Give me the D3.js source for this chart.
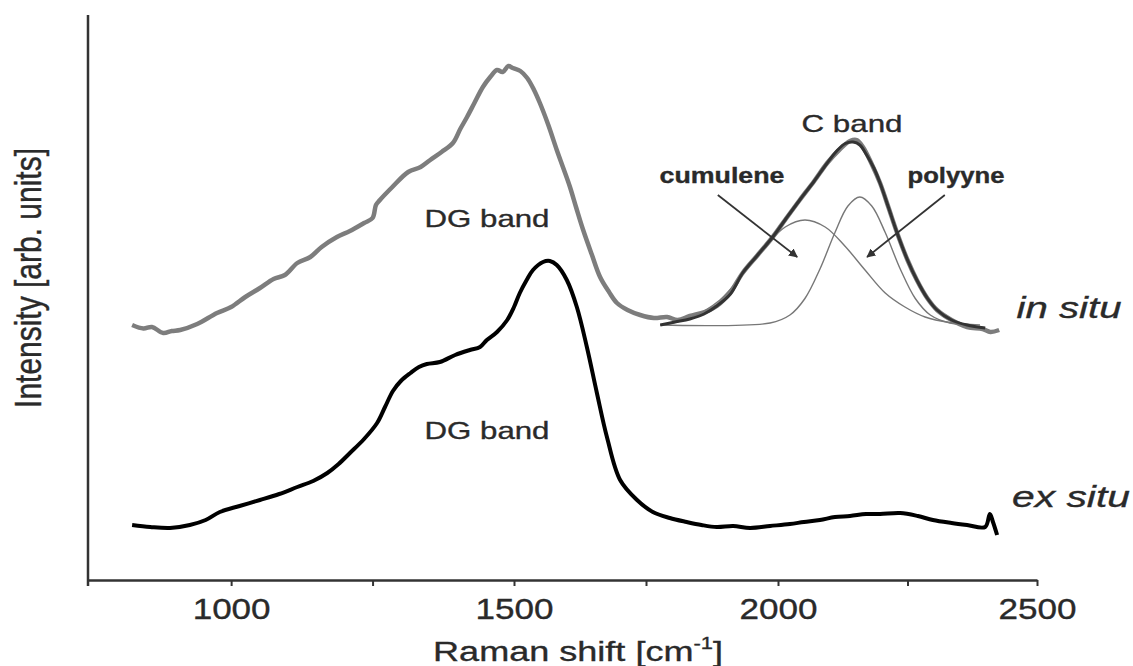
<!DOCTYPE html>
<html>
<head>
<meta charset="utf-8">
<script src="https://cdn.jsdelivr.net/npm/d3@7"></script>
<style>
  body { margin: 0; background: #fff; }
  text { font-family: "Liberation Sans", Arial, sans-serif; fill: #2a2a2a; stroke: #2a2a2a; stroke-width: 0.35px; }
</style>
</head>
<body>
<script>
// Raman spectra, in situ (grey) and ex situ (black)
var inSituShift = [825, 845, 860, 880, 895, 910, 940, 975, 1000, 1025, 1051, 1075, 1095, 1117, 1140, 1160, 1187, 1210, 1235, 1250,
  1256, 1263, 1285, 1313, 1335, 1352, 1372, 1392, 1405, 1417, 1430, 1445, 1458, 1470, 1480, 1490, 1498, 1512, 1525, 1537,
  1549, 1565, 1581, 1594, 1606, 1618, 1631, 1647, 1663, 1680, 1695, 1715, 1739, 1765, 1790, 1810, 1833, 1861, 1884, 1910,
  1933, 1960, 1990, 2015, 2042, 2070, 2095, 2118, 2139, 2152, 2164, 2180, 2197, 2213, 2230, 2250, 2268, 2288, 2307, 2335,
  2365, 2395, 2410, 2427];
var inSituInt = [51.0, 50.3, 50.6, 49.4, 49.8, 50.0, 51.2, 53.4, 54.6, 56.6, 58.4, 60.2, 61.0, 63.4, 64.6, 66.6, 68.6, 69.8, 71.4, 72.4,
  75.0, 76.0, 78.6, 81.6, 82.6, 84.0, 85.6, 87.4, 90.2, 92.6, 95.4, 98.6, 100.6, 102.0, 101.6, 102.8, 102.4, 101.8, 100.4, 98.2,
  95.4, 91.0, 86.0, 82.2, 78.6, 74.4, 70.0, 65.2, 60.6, 57.6, 55.4, 54.0, 53.0, 52.4, 52.6, 52.0, 52.8, 53.6, 54.8, 57.6,
  61.4, 64.8, 68.6, 72.2, 76.0, 79.8, 83.4, 86.0, 87.8, 88.0, 86.6, 83.4, 79.4, 74.6, 69.4, 64.0, 60.0, 56.4, 54.0, 52.0,
  50.6, 50.2, 49.6, 50.0];

var exSituShift = [825, 857, 892, 927, 955, 980, 1015, 1051, 1085, 1117, 1145, 1170, 1190, 1210, 1235, 1258, 1272, 1286, 1300, 1317,
  1332, 1346, 1369, 1396, 1422, 1440, 1452, 1470, 1488, 1500, 1511, 1524, 1536, 1555, 1568, 1581, 1600, 1619, 1638, 1657,
  1676, 1701, 1733, 1763, 1795, 1827, 1855, 1884, 1915, 1947, 1985, 2023, 2050, 2081, 2110, 2139, 2170, 2197, 2236, 2270,
  2299, 2335, 2365, 2400, 2409, 2415, 2423];
var exSituInt = [11.0, 10.6, 10.4, 11.0, 12.0, 13.6, 14.8, 16.0, 17.2, 18.6, 19.8, 21.4, 23.2, 25.4, 28.2, 31.4, 34.6, 37.8, 39.8, 41.4,
  42.6, 43.2, 43.6, 45.0, 46.0, 46.6, 48.0, 49.6, 52.0, 54.6, 57.4, 60.0, 62.0, 63.6, 63.8, 63.0, 60.0, 54.6, 46.6, 37.4,
  28.6, 20.0, 16.0, 13.6, 12.4, 11.6, 11.0, 10.6, 10.8, 10.4, 10.8, 11.2, 11.6, 12.0, 12.6, 12.8, 13.2, 13.2, 13.4, 12.8,
  12.0, 11.4, 11.0, 10.6, 13.2, 11.6, 9.0];

// C band fit and its two components
var fitShift = [1777, 1805, 1833, 1860, 1884, 1910, 1933, 1960, 1990, 2015, 2042, 2070, 2095, 2115, 2130, 2145, 2158, 2170, 2185, 2197,
  2213, 2230, 2250, 2268, 2288, 2307, 2335, 2365, 2400];
var fitInt = [51.0, 51.6, 52.2, 53.2, 54.8, 57.2, 61.4, 64.8, 68.6, 72.2, 76.0, 79.8, 83.4, 86.0, 87.3, 87.6, 87.0, 85.2, 82.4, 79.4,
  74.6, 69.4, 64.0, 60.0, 56.4, 54.0, 52.0, 51.0, 50.4];

var cumuleneShift = [1777, 1833, 1890, 1937, 1975, 2014, 2052, 2091, 2129, 2168, 2207, 2245, 2284, 2332, 2390];
var cumuleneInt = [51.0, 52.4, 56.0, 61.6, 66.6, 70.6, 72.0, 70.6, 66.8, 62.0, 57.4, 54.6, 52.6, 51.5, 51.0];

var polyyneShift = [1777, 1985, 2023, 2052, 2081, 2110, 2135, 2158, 2181, 2207, 2236, 2265, 2294, 2332, 2380];
var polyyneInt = [51.0, 51.4, 53.0, 56.3, 62.2, 69.5, 74.8, 76.6, 74.8, 69.5, 62.2, 56.3, 53.0, 51.4, 51.0];

var xTicks = [1000, 1250, 1500, 1750, 2000, 2250, 2500];
var xTickLabels = ["1000", "", "1500", "", "2000", "", "2500"];

var width = 1133, height = 666;

var svg = d3.select("body").append("svg")
    .attr("width", width)
    .attr("height", height);

// the printed axis is not quite uniform, so the scale follows its tick marks
var x = d3.scaleLinear()
    .domain([747, 1500, 2000, 2500])
    .range([88, 514, 778, 1037]);

var y = d3.scaleLinear()
    .domain([0, 113])
    .range([580, 15]);

function pts(xs, ys) {
    return xs.map(function (d, i) { return [d, ys[i]]; });
}

var line = d3.line()
    .x(function (d) { return x(d[0]); })
    .y(function (d) { return y(d[1]); })
    .curve(d3.curveCatmullRom.alpha(0.5));

// spectra
svg.append("path").datum(pts(inSituShift, inSituInt))
    .attr("d", line).attr("fill", "none")
    .attr("stroke", "#7d7d7d").attr("stroke-width", 4.5).attr("stroke-linejoin", "round");

svg.append("path").datum(pts(exSituShift, exSituInt))
    .attr("d", line).attr("fill", "none")
    .attr("stroke", "#000").attr("stroke-width", 4).attr("stroke-linejoin", "round");

svg.append("path").datum(pts(cumuleneShift, cumuleneInt))
    .attr("d", line).attr("fill", "none")
    .attr("stroke", "#777").attr("stroke-width", 1.4);

svg.append("path").datum(pts(polyyneShift, polyyneInt))
    .attr("d", line).attr("fill", "none")
    .attr("stroke", "#777").attr("stroke-width", 1.4);

svg.append("path").datum(pts(fitShift, fitInt))
    .attr("d", line).attr("fill", "none")
    .attr("stroke", "#333").attr("stroke-width", 3);

// axes
var xAxis = d3.axisBottom(x)
    .tickValues(xTicks)
    .tickFormat(function (d, i) { return xTickLabels[i]; })
    .tickSizeInner(6)
    .tickSizeOuter(0)
    .tickPadding(12);

var gx = svg.append("g")
    .attr("transform", "translate(0," + y(0) + ")")
    .call(xAxis);
gx.select(".domain").attr("stroke", "#333").attr("stroke-width", 2.5);
gx.selectAll(".tick line").attr("stroke", "#333").attr("stroke-width", 2);
gx.selectAll(".tick text")
    .style("font-size", "30px")
    .attr("fill", "#2a2a2a")
    .attr("textLength", function () { return this.textContent ? 78 : null; })
    .attr("lengthAdjust", "spacingAndGlyphs");

svg.append("line")
    .attr("x1", x.range()[0]).attr("x2", x.range()[0])
    .attr("y1", 15).attr("y2", y(0) + 6)
    .attr("stroke", "#333").attr("stroke-width", 2.5);

// stretch a text node to a target width (the printed figure is widened)
function fitWidth(sel, cx, cy, w, rot) {
    var bw = sel.node().getBBox().width;
    var s = w / bw;
    if (rot) sel.attr("transform", "translate(" + cx + "," + cy + ") scale(1.17," + s + ") rotate(-90)");
    else sel.attr("transform", "translate(" + cx + "," + cy + ") scale(" + s + ",1)");
}

var xl = svg.append("text")
    .attr("text-anchor", "middle")
    .style("font-size", "28px");
xl.append("tspan").text("Raman shift [cm");
xl.append("tspan").attr("dy", -12).style("font-size", "17px").text("-1");
xl.append("tspan").attr("dy", 12).text("]");
fitWidth(xl, 578, 661, 290);

var yl = svg.append("text")
    .attr("text-anchor", "middle")
    .style("font-size", "31px")
    .text("Intensity [arb. units]");
fitWidth(yl, 41, 278, 260, true);

// annotations
var notes = [
    { t: "DG band", x: 487, y: 227, w: 125, size: 24 },
    { t: "DG band", x: 487, y: 439, w: 125, size: 24 },
    { t: "C band", x: 852, y: 132, w: 101, size: 24 },
    { t: "cumulene", x: 722, y: 183, w: 125, size: 22, weight: "bold" },
    { t: "polyyne", x: 956, y: 183, w: 97, size: 22, weight: "bold" },
    { t: "in situ", x: 1069, y: 318, w: 105, size: 29, style: "italic" },
    { t: "ex situ", x: 1071, y: 507, w: 118, size: 29, style: "italic" }
];
notes.forEach(function (n) {
    var t = svg.append("text")
        .attr("text-anchor", "middle")
        .style("font-size", n.size + "px")
        .style("font-weight", n.weight || "normal")
        .style("font-style", n.style || "normal")
        .text(n.t);
    fitWidth(t, n.x, n.y, n.w);
});

// arrows pointing at the two components
svg.append("defs").append("marker")
    .attr("id", "head")
    .attr("viewBox", "0 0 10 10")
    .attr("refX", 9).attr("refY", 5)
    .attr("markerWidth", 9).attr("markerHeight", 9)
    .attr("markerUnits", "userSpaceOnUse")
    .attr("orient", "auto")
    .append("path").attr("d", "M0,0 L10,5 L0,10 z").attr("fill", "#333");

var arrows = [
    [[1886, 77], [2037, 64.6]],
    [[2322, 77], [2172, 64.6]]
];
arrows.forEach(function (a) {
    svg.append("line")
        .attr("x1", x(a[0][0])).attr("y1", y(a[0][1]))
        .attr("x2", x(a[1][0])).attr("y2", y(a[1][1]))
        .attr("stroke", "#333").attr("stroke-width", 1.8)
        .attr("marker-end", "url(#head)");
});
</script>
</body>
</html>
